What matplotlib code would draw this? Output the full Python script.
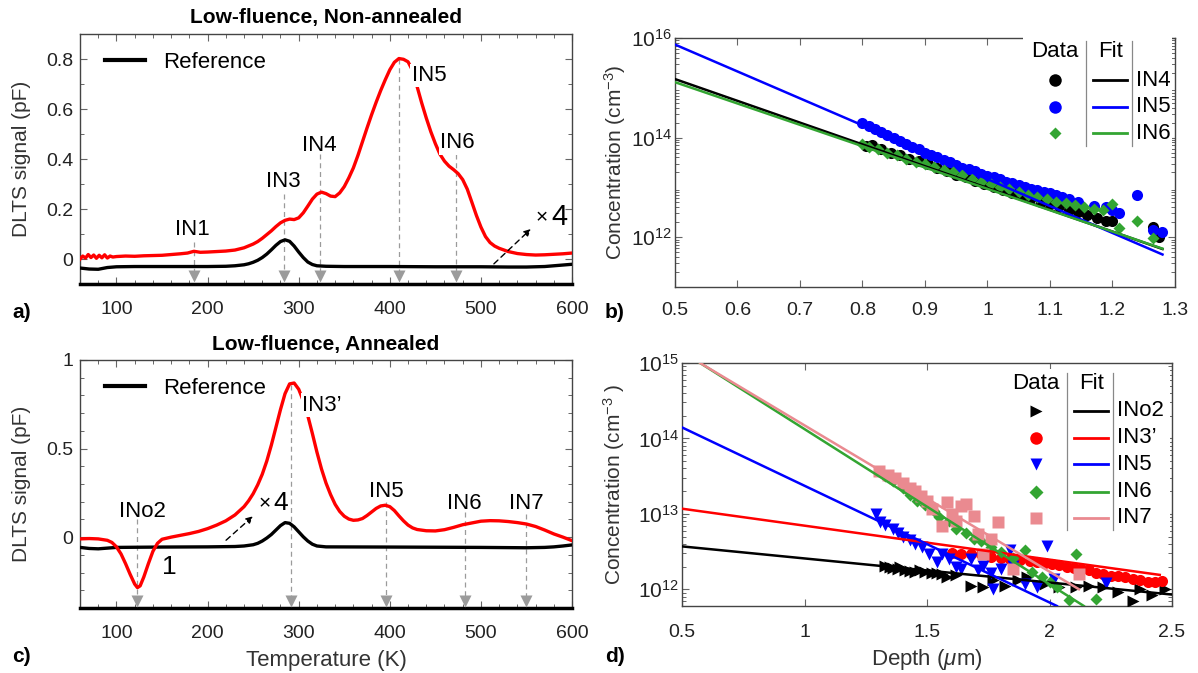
import numpy as np
import matplotlib
matplotlib.use('Agg')
import matplotlib.pyplot as plt
from matplotlib import font_manager
from matplotlib.ticker import MultipleLocator, LogLocator, NullFormatter
from matplotlib.lines import Line2D
from matplotlib.patches import Rectangle

names = {f.name for f in font_manager.fontManager.ttflist}
SANS = 'Liberation Sans Narrow' if 'Liberation Sans Narrow' in names else 'Liberation Sans'
plt.rcParams['font.family'] = [SANS, 'Liberation Sans', 'DejaVu Sans']
plt.rcParams['mathtext.fontset'] = 'custom'
plt.rcParams['mathtext.rm'] = SANS
plt.rcParams['mathtext.it'] = SANS + ':italic'
plt.rcParams['axes.unicode_minus'] = False

# ---- DLTS spectra, low fluence, non-annealed ----
T_a = [60, 63, 66, 69, 72, 75, 78, 81, 84, 87, 90, 93, 96, 100, 110, 120, 130, 140, 150, 160,
       170, 178, 185, 192, 200, 210, 220, 230, 240, 250, 255, 260, 265, 270, 275, 280, 285, 290,
       295, 300, 305, 310, 315, 320, 325, 330, 335, 340, 345, 350, 355, 360, 365, 370, 375, 380,
       385, 390, 395, 400, 405, 410, 415, 420, 425, 430, 435, 440, 445, 450, 455, 460, 465, 470,
       475, 480, 485, 490, 495, 500, 505, 510, 515, 520, 530, 540, 550, 560, 570, 580, 590, 600]
dlts_a = [0.000, 0.012, 0.004, 0.018, 0.006, 0.016, 0.003, 0.015, 0.005, 0.017, 0.004, 0.012,
          0.008, 0.010, 0.012, 0.011, 0.013, 0.014, 0.015, 0.018, 0.021, 0.024, 0.031, 0.027,
          0.028, 0.030, 0.032, 0.036, 0.045, 0.060, 0.070, 0.083, 0.098, 0.113, 0.130, 0.145,
          0.155, 0.160, 0.158, 0.165, 0.185, 0.212, 0.240, 0.260, 0.268, 0.262, 0.252, 0.250,
          0.265, 0.290, 0.325, 0.365, 0.415, 0.470, 0.525, 0.578, 0.628, 0.675, 0.718, 0.758,
          0.788, 0.803, 0.800, 0.790, 0.755, 0.690, 0.625, 0.565, 0.510, 0.462, 0.420, 0.392,
          0.372, 0.358, 0.342, 0.318, 0.280, 0.228, 0.175, 0.128, 0.090, 0.066, 0.052, 0.043,
          0.030, 0.022, 0.018, 0.016, 0.017, 0.019, 0.021, 0.024]
T_ref_a = [60, 70, 80, 90, 100, 120, 150, 180, 200, 220, 230, 240, 245, 250, 255, 260, 265, 270,
           275, 280, 285, 290, 295, 300, 305, 310, 315, 320, 330, 350, 400, 450, 500, 530, 550,
           570, 580, 590, 600]
ref_a = [-0.036, -0.040, -0.041, -0.034, -0.031, -0.030, -0.030, -0.030, -0.030, -0.029, -0.027,
         -0.023, -0.019, -0.013, -0.005, 0.006, 0.020, 0.037, 0.055, 0.070, 0.077, 0.071, 0.052,
         0.028, 0.006, -0.012, -0.022, -0.027, -0.029, -0.030, -0.030, -0.031, -0.031, -0.032,
         -0.032, -0.030, -0.027, -0.024, -0.021]
peaks_a = ['IN1', 'IN3', 'IN4', 'IN5', 'IN6']
peaks_a_T = [185, 284, 323, 410, 473]

# ---- DLTS spectra, low fluence, annealed ----
T_c = [60, 70, 80, 90, 95, 100, 105, 110, 115, 120, 123, 126, 130, 135, 140, 145, 150, 160, 170,
       180, 190, 200, 210, 220, 230, 240, 245, 250, 255, 260, 265, 270, 275, 280, 285, 290, 295,
       300, 305, 310, 315, 320, 325, 330, 335, 340, 345, 350, 355, 360, 365, 370, 375, 380, 385,
       390, 395, 400, 405, 410, 415, 420, 425, 430, 440, 450, 460, 470, 480, 490, 500, 510, 520,
       530, 540, 550, 560, 570, 580, 590, 600]
dlts_c = [-0.010, -0.008, -0.010, -0.018, -0.030, -0.055, -0.095, -0.150, -0.210, -0.265,
          -0.285, -0.275, -0.225, -0.150, -0.080, -0.035, -0.012, 0.000, 0.010, 0.020, 0.032,
          0.048, 0.068, 0.092, 0.125, 0.172, 0.205, 0.245, 0.295, 0.355, 0.430, 0.520, 0.620,
          0.720, 0.810, 0.865, 0.870, 0.835, 0.770, 0.685, 0.585, 0.480, 0.385, 0.305, 0.240,
          0.185, 0.145, 0.118, 0.102, 0.095, 0.097, 0.105, 0.122, 0.142, 0.162, 0.176, 0.180,
          0.172, 0.150, 0.120, 0.092, 0.068, 0.052, 0.043, 0.036, 0.035, 0.042, 0.055, 0.070,
          0.080, 0.090, 0.093, 0.092, 0.088, 0.082, 0.074, 0.060, 0.040, 0.018, 0.000, -0.020]
T_ref_c = [60, 70, 80, 90, 100, 150, 200, 230, 240, 250, 255, 260, 265, 270, 275, 280, 285, 290,
           295, 300, 305, 310, 315, 320, 330, 400, 500, 550, 570, 580, 590, 600]
ref_c = [-0.058, -0.064, -0.066, -0.062, -0.058, -0.056, -0.055, -0.053, -0.050, -0.043, -0.035,
         -0.022, -0.005, 0.015, 0.040, 0.065, 0.082, 0.078, 0.058, 0.030, 0.002, -0.022, -0.040,
         -0.050, -0.055, -0.056, -0.058, -0.060, -0.058, -0.055, -0.050, -0.044]
peaks_c = ['INo2', 'IN3\u2019', 'IN5', 'IN6', 'IN7']
peaks_c_T = [122, 291, 396, 482, 550]

# ---- depth profiles, non-annealed ----
d_in4 = [0.805, 0.815, 0.83, 0.845, 0.86, 0.875, 0.89, 0.905, 0.92, 0.935, 0.95, 0.965, 0.98,
         0.995, 1.01, 1.025, 1.04, 1.055, 1.07, 1.085, 1.10, 1.115, 1.13, 1.145, 1.16, 1.175,
         1.19, 1.20, 1.265, 1.275]
n_in4 = [6.9e13, 7.2e13, 5.8e13, 5.0e13, 4.4e13, 3.8e13, 3.4e13, 2.9e13, 2.5e13, 2.1e13, 1.8e13,
         1.6e13, 1.35e13, 1.17e13, 1.0e13, 8.9e12, 7.8e12, 6.9e12, 6.0e12, 5.2e12, 4.7e12, 4.2e12,
         3.6e12, 3.2e12, 2.8e12, 2.4e12, 2.1e12, 2.1e12, 1.6e12, 1.0e12]
d_in5 = [0.80, 0.81, 0.82, 0.83, 0.84, 0.85, 0.86, 0.87, 0.88, 0.89, 0.90, 0.91, 0.92, 0.93, 0.94,
         0.95, 0.96, 0.97, 0.98, 0.99, 1.00, 1.01, 1.02, 1.03, 1.04, 1.05, 1.06, 1.07, 1.08, 1.09,
         1.10, 1.11, 1.12, 1.13, 1.145, 1.17, 1.19, 1.20, 1.21, 1.24, 1.265, 1.28]
n_in5 = [1.95e14, 1.75e14, 1.5e14, 1.3e14, 1.15e14, 1.0e14, 8.7e13, 7.6e13, 6.6e13, 5.8e13,
         5.0e13, 4.5e13, 4.0e13, 3.5e13, 3.2e13, 2.8e13, 2.5e13, 2.3e13, 2.1e13, 1.9e13, 1.7e13,
         1.6e13, 1.45e13, 1.3e13, 1.2e13, 1.1e13, 1.0e13, 9.3e12, 8.7e12, 8.1e12, 7.6e12, 7.1e12,
         6.3e12, 5.8e12, 5.2e12, 4.2e12, 4.0e12, 3.5e12, 3.0e12, 7.1e12, 1.4e12, 1.3e12]
d_in6 = [0.80, 0.81, 0.825, 0.84, 0.855, 0.87, 0.885, 0.90, 0.915, 0.93, 0.945, 0.96, 0.975, 0.99,
         1.005, 1.02, 1.035, 1.05, 1.065, 1.08, 1.095, 1.11, 1.125, 1.14, 1.155, 1.17, 1.185,
         1.20, 1.21, 1.24, 1.265]
n_in6 = [7.4e13, 6.6e13, 5.8e13, 5.0e13, 4.4e13, 3.8e13, 3.3e13, 2.9e13, 2.6e13, 2.2e13, 2.0e13,
         1.75e13, 1.5e13, 1.3e13, 1.15e13, 1.0e13, 9.1e12, 8.0e12, 7.2e12, 6.5e12, 5.9e12, 5.2e12,
         4.8e12, 4.4e12, 4.0e12, 3.7e12, 3.6e12, 4.6e12, 1.5e12, 2.1e12, 9.5e11]
fit_b_depth = [0.5, 1.28]
fit_b_in4 = [1.5e15, 5.8e11]
fit_b_in5 = [7.4e15, 4.5e11]
fit_b_in6 = [1.3e15, 5.9e11]

# ---- depth profiles, annealed ----
d_no2 = [1.33, 1.35, 1.36, 1.38, 1.39, 1.41, 1.43, 1.45, 1.47, 1.49, 1.52, 1.54, 1.56, 1.58, 1.62,
         1.68, 1.73, 1.77, 1.82, 1.87, 1.91, 1.98, 2.04, 2.11, 2.16, 2.22, 2.28, 2.34, 2.37, 2.42,
         2.47]
n_no2 = [2.05e12, 2.0e12, 1.9e12, 1.86e12, 1.95e12, 1.78e12, 1.74e12, 1.7e12, 1.78e12, 1.7e12,
         1.66e12, 1.62e12, 1.58e12, 1.45e12, 1.55e12, 1.1e12, 1.07e12, 1.32e12, 1.12e12, 1.32e12,
         1.45e12, 1.17e12, 1.07e12, 1.07e12, 1.12e12, 1.07e12, 9.3e11, 6.9e11, 1.0e12, 8.5e11,
         1.0e12]
d_in3p = [1.60, 1.64, 1.68, 1.72, 1.76, 1.80, 1.84, 1.88, 1.92, 1.95, 1.98, 2.01, 2.04, 2.07, 2.10,
          2.13, 2.16, 2.19, 2.22, 2.25, 2.28, 2.31, 2.34, 2.37, 2.40, 2.43, 2.46]
n_in3p = [3.0e12, 2.95e12, 2.95e12, 2.9e12, 2.7e12, 2.6e12, 2.55e12, 2.45e12, 2.35e12, 2.3e12,
          2.2e12, 2.15e12, 2.1e12, 2.0e12, 1.9e12, 1.85e12, 1.78e12, 1.65e12, 1.58e12, 1.5e12,
          1.48e12, 1.45e12, 1.38e12, 1.32e12, 1.26e12, 1.26e12, 1.29e12]
d_in5c = [1.29, 1.31, 1.33, 1.36, 1.38, 1.40, 1.43, 1.45, 1.48, 1.51, 1.54, 1.56, 1.59, 1.62, 1.64,
          1.68, 1.71, 1.73, 1.76, 1.77, 1.80, 1.84, 1.85, 1.90, 1.95, 1.99, 2.02, 2.23]
n_in5c = [1.0e13, 7.8e12, 7.1e12, 6.3e12, 5.5e12, 4.9e12, 4.5e12, 4.0e12, 3.6e12, 2.95e12, 2.3e12,
          2.95e12, 2.55e12, 2.0e12, 1.86e12, 2.55e12, 1.78e12, 2.05e12, 1.62e12, 1.02e12, 1.86e12,
          3.3e12, 2.05e12, 1.17e12, 1.07e12, 3.8e12, 1.38e12, 1.2e12]
d_in6c = [1.33, 1.36, 1.40, 1.43, 1.46, 1.49, 1.53, 1.55, 1.59, 1.62, 1.66, 1.69, 1.72, 1.76, 1.80,
          1.85, 1.90, 1.93, 1.97, 2.00, 2.03, 2.08, 2.11, 2.19]
n_in6c = [3.2e13, 2.75e13, 2.2e13, 1.8e13, 1.5e13, 1.3e13, 1.1e13, 9.1e12, 8.1e12, 6.3e12, 5.5e12,
          4.7e12, 4.3e12, 3.6e12, 3.1e12, 2.6e12, 3.3e12, 1.7e12, 1.45e12, 1.26e12, 1.07e12,
          7.1e11, 2.95e12, 7.4e11]
d_in7 = [1.306, 1.34, 1.37, 1.40, 1.43, 1.45, 1.475, 1.50, 1.52, 1.56, 1.58, 1.60, 1.62, 1.64,
         1.66, 1.69, 1.71, 1.73, 1.76, 1.79, 1.85, 2.12]
n_in7 = [3.7e13, 3.3e13, 3.0e13, 2.6e13, 2.2e13, 2.0e13, 1.75e13, 1.5e13, 1.15e13, 6.9e12,
         1.45e13, 1.0e13, 8.1e12, 1.26e13, 1.35e13, 9.3e12, 5.4e12, 2.95e12, 4.7e12, 7.8e12,
         1.86e12, 1.58e12]
fit_d_no2 = ([0.5, 2.5], [3.7e12, 8.5e11])
fit_d_in3p = ([0.5, 2.45], [1.17e13, 1.55e12])
fit_d_in5 = ([0.5, 2.03], [1.4e14, 6.0e11])
fit_d_in6 = ([0.55, 2.14], [1.12e15, 6.0e11])
fit_d_in7 = ([0.574, 2.12], [1.0e15, 1.0e12])

RED = '#ff0000'
BLUE = '#0000ff'
GREEN = '#33a532'
PINK = '#ea8a90'
GRAY = '#9b9b9b'
TXT = '#222222'

fig = plt.figure(figsize=(11.98, 6.73), dpi=100)
ax_a = fig.add_axes([0.0668, 0.578, 0.4107, 0.371])
ax_c = fig.add_axes([0.0668, 0.0966, 0.4107, 0.3685])
ax_b = fig.add_axes([0.5634, 0.5735, 0.4174, 0.370])
ax_d = fig.add_axes([0.5693, 0.0996, 0.409, 0.361])


def style_frame(ax, xpad, ypad=5, thick_bottom=False):
    for side, sp in ax.spines.items():
        sp.set_color('#444444')
        sp.set_linewidth(1.0)
    if thick_bottom:
        ax.spines['bottom'].set_color('black')
        ax.spines['bottom'].set_linewidth(2.5)
    ax.tick_params(which='both', direction='in', top=True, right=True,
                   color='#666666', labelsize=14, labelcolor=TXT)
    ax.tick_params(which='major', length=5, width=0.8)
    ax.tick_params(which='minor', length=3, width=0.7)
    ax.tick_params(axis='x', which='both', pad=xpad)
    ax.tick_params(axis='y', which='both', pad=ypad)


def mark_peaks(ax, names, temps, tops, y_arrow, labels):
    for name, t, top, (lx, ly, ha, boxed) in zip(names, temps, tops, labels):
        ax.plot([t, t], [top, y_arrow], ls=(0, (4, 3)), color=GRAY, lw=0.9, zorder=1)
        ax.plot([t], [y_arrow], marker='v', ms=9, color=GRAY, mec='none', zorder=4)
        kw = {}
        if boxed:
            kw['bbox'] = dict(facecolor='white', edgecolor='none', pad=1.0)
        ax.text(lx, ly, name, ha=ha, va='center', fontsize=16, color='black', zorder=6, **kw)


def spectrum_panel(ax, T, sig, Tref, ref, ylim):
    ax.plot(Tref, ref, color='black', lw=2.4, zorder=3)
    ax.plot(T, sig, color=RED, lw=2.4, zorder=3)
    ax.set_xlim(60, 600)
    ax.set_ylim(*ylim)
    ax.xaxis.set_major_locator(MultipleLocator(100))
    ax.xaxis.set_minor_locator(MultipleLocator(20))
    ax.yaxis.set_minor_locator(MultipleLocator(0.1))
    style_frame(ax, xpad=12, thick_bottom=True)
    ax.set_ylabel('DLTS signal (pF)', fontsize=15, color='#333333')
    ax.legend([Line2D([], [], color='black', lw=3)], ['Reference'], loc='upper left',
              bbox_to_anchor=(0.01, 1.01), frameon=False, fontsize=16, handlelength=1.8,
              handletextpad=0.8)


# (a) non-annealed spectrum
spectrum_panel(ax_a, T_a, dlts_a, T_ref_a, ref_a, (-0.1, 0.9))
ax_a.set_yticks([0, 0.2, 0.4, 0.6, 0.8], ['0', '0.2', '0.4', '0.6', '0.8'])
ax_a.set_title('Low-fluence, Non-annealed', fontsize=15, fontweight='bold', pad=8)
mark_peaks(ax_a, peaks_a, peaks_a_T, [0.07, 0.26, 0.42, 0.80, 0.42], -0.067,
           [(183, 0.12, 'center', False), (283, 0.31, 'center', False),
            (323, 0.455, 'center', False), (424, 0.735, 'left', True),
            (474, 0.465, 'center', True)])
ax_a.annotate('', xy=(557, 0.128), xytext=(512, -0.027),
              arrowprops=dict(arrowstyle='-|>', color='black', lw=1.0, ls=(0, (4, 3)),
                              mutation_scale=10))
ax_a.text(567, 0.165, '\u00d7', fontsize=15, ha='center', va='center')
ax_a.text(586, 0.17, '4', fontsize=21, ha='center', va='center')
ax_a.yaxis.set_label_coords(-0.10, 0.5)

# (c) annealed spectrum
spectrum_panel(ax_c, T_c, dlts_c, T_ref_c, ref_c, (-0.4, 1.0))
ax_c.set_yticks([0, 0.5, 1], ['0', '0.5', '1'])
ax_c.set_title('Low-fluence, Annealed', fontsize=15, fontweight='bold', pad=7)
mark_peaks(ax_c, peaks_c, peaks_c_T, [0.10, 0.86, 0.20, 0.14, 0.13], -0.358,
           [(128, 0.147, 'center', False), (304, 0.745, 'left', True),
            (396, 0.26, 'center', False), (482, 0.19, 'center', False),
            (550, 0.19, 'center', False)])
ax_c.annotate('', xy=(252, 0.128), xytext=(218, -0.028),
              arrowprops=dict(arrowstyle='-|>', color='black', lw=1.0, ls=(0, (4, 3)),
                              mutation_scale=10))
ax_c.text(263, 0.19, '\u00d7', fontsize=15, ha='center', va='center')
ax_c.text(280, 0.19, '4', fontsize=19, ha='center', va='center')
ax_c.text(158, -0.17, '1', fontsize=19, ha='center', va='center')
ax_c.set_xlabel('Temperature (K)', fontsize=16, color='#333333', labelpad=6)
ax_c.yaxis.set_label_coords(-0.10, 0.5)


def data_fit_key(ax, box, x_cols, y_head, y_rows, entries):
    x0, y0, x1, y1 = box
    ax.add_patch(Rectangle((x0, y0), x1 - x0, y1 - y0, transform=ax.transAxes,
                           facecolor='white', edgecolor='none', zorder=8, clip_on=False))
    xm, xsep1, xfit, xsep2, xl0, xl1, xlab = x_cols
    kw = dict(transform=ax.transAxes, clip_on=False, zorder=9)
    ax.text(xm, y_head, 'Data', fontsize=16, ha='center', va='center', **kw)
    ax.text(xfit, y_head, 'Fit', fontsize=16, ha='center', va='center', **kw)
    ytop = y_head + 0.045
    ybot = y_rows[-1] - 0.05
    for xs in (xsep1, xsep2):
        ax.plot([xs, xs], [ybot, ytop], color='#888888', lw=0.9, **kw)
    for y, (marker, ms, color, label) in zip(y_rows, entries):
        ax.plot([xm], [y], marker=marker, ms=ms, color=color, mec='none', ls='none', **kw)
        ax.plot([xl0, xl1], [y, y], color=color, lw=2.0, **kw)
        ax.text(xlab, y, label, fontsize=16, ha='left', va='center', **kw)


def depth_frame(ax, xpad):
    style_frame(ax, xpad=xpad, ypad=2)
    ax.set_yscale('log')
    ax.yaxis.set_minor_locator(LogLocator(base=10, subs=np.arange(2, 10), numticks=20))
    ax.yaxis.set_minor_formatter(NullFormatter())
    ax.tick_params(axis='y', which='major', labelsize=15)


# (b) non-annealed depth profiles
ax_b.plot(d_in4, n_in4, 'o', ms=8, color='black', mec='none', zorder=3)
ax_b.plot(d_in5, n_in5, 'o', ms=8, color=BLUE, mec='none', zorder=3)
ax_b.plot(d_in6, n_in6, 'D', ms=6, color=GREEN, mec='none', zorder=3)
ax_b.plot(fit_b_depth, fit_b_in4, color='black', lw=1.8, zorder=4)
ax_b.plot(fit_b_depth, fit_b_in5, color=BLUE, lw=1.8, zorder=4)
ax_b.plot(fit_b_depth, fit_b_in6, color=GREEN, lw=1.8, zorder=4)
depth_frame(ax_b, xpad=11)
ax_b.set_xlim(0.5, 1.3)
ax_b.set_ylim(1e11, 1e16)
ax_b.yaxis.set_major_locator(LogLocator(base=100, numticks=10))
ax_b.set_xticks([0.5, 0.6, 0.7, 0.8, 0.9, 1.0, 1.1, 1.2, 1.3],
                ['0.5', '0.6', '0.7', '0.8', '0.9', '1', '1.1', '1.2', '1.3'])
ax_b.set_ylabel('Concentration (cm$^{-3}$)', fontsize=15, color='#333333')
ax_b.yaxis.set_label_coords(-0.094, 0.5)
data_fit_key(ax_b, (0.696, 0.55, 0.995, 1.004),
             (0.76, 0.823, 0.871, 0.914, 0.837, 0.905, 0.922), 0.944,
             [0.83, 0.724, 0.617],
             [('o', 9, 'black', 'IN4'), ('o', 9, BLUE, 'IN5'), ('D', 6, GREEN, 'IN6')])

# (d) annealed depth profiles
ax_d.plot(d_no2, n_no2, '>', ms=8, color='black', mec='none', zorder=3)
ax_d.plot(d_in3p, n_in3p, 'o', ms=8, color=RED, mec='none', zorder=3)
ax_d.plot(d_in5c, n_in5c, 'v', ms=8, color=BLUE, mec='none', zorder=3)
ax_d.plot(d_in6c, n_in6c, 'D', ms=6, color=GREEN, mec='none', zorder=3)
ax_d.plot(d_in7, n_in7, 's', ms=8, color=PINK, mec='none', zorder=3)
for (dx, ny), col in zip([fit_d_no2, fit_d_in3p, fit_d_in5, fit_d_in6, fit_d_in7],
                         ['black', RED, BLUE, GREEN, PINK]):
    ax_d.plot(dx, ny, color=col, lw=1.8, zorder=4)
depth_frame(ax_d, xpad=13)
ax_d.set_xlim(0.5, 2.5)
ax_d.set_ylim(6e11, 1e15)
ax_d.yaxis.set_major_locator(LogLocator(base=10, numticks=10))
ax_d.set_xticks([0.5, 1.0, 1.5, 2.0, 2.5], ['0.5', '1', '1.5', '2', '2.5'])
ax_d.set_ylabel('Concentration (cm$^{-3}$ )', fontsize=15, color='#333333')
ax_d.yaxis.set_label_coords(-0.112, 0.5)
ax_d.set_xlabel('Depth ($\\mu$m)', fontsize=16, color='#333333', labelpad=4)
data_fit_key(ax_d, (0.666, 0.30, 0.995, 0.975),
             (0.723, 0.786, 0.836, 0.879, 0.801, 0.869, 0.887), 0.915,
             [0.803, 0.692, 0.584, 0.47, 0.364],
             [('>', 9, 'black', 'INo2'), ('o', 9, RED, 'IN3\u2019'), ('v', 9, BLUE, 'IN5'),
              ('D', 7, GREEN, 'IN6'), ('s', 9, PINK, 'IN7')])

# panel letters
for x, y, s in [(0.010, 0.536, 'a)'), (0.505, 0.536, 'b)'), (0.010, 0.024, 'c)'),
                (0.505, 0.024, 'd)')]:
    fig.text(x, y, s, fontsize=15, fontweight='bold', ha='left', va='center')

fig.savefig('out.png', dpi=100)
